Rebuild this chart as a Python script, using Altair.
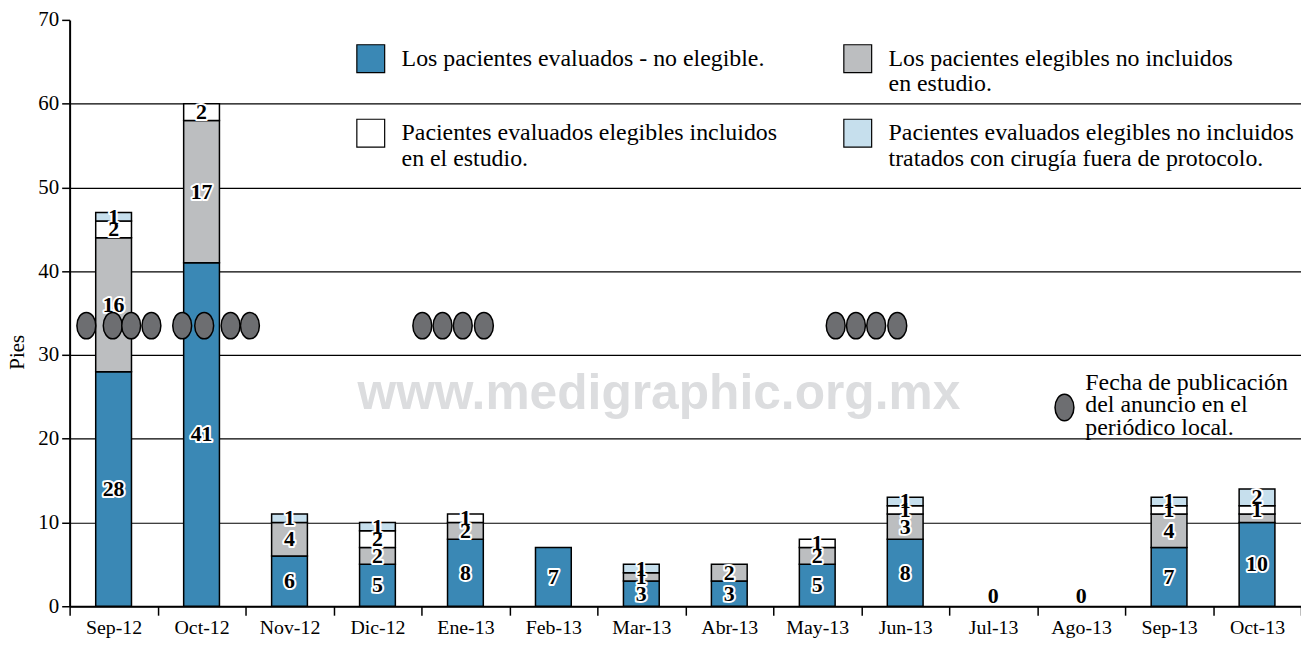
import altair as alt
import pandas as pd

# ---------------- data ----------------
meses = ["Sep-12", "Oct-12", "Nov-12", "Dic-12", "Ene-13", "Feb-13", "Mar-13",
         "Abr-13", "May-13", "Jun-13", "Jul-13", "Ago-13", "Sep-13", "Oct-13"]

series = [
    "Los pacientes evaluados - no elegible.| ",
    "Los pacientes elegibles no incluidos|en estudio.",
    "Pacientes evaluados elegibles incluidos|en el estudio.",
    "Pacientes evaluados elegibles no incluidos|tratados con cirugía fuera de protocolo.",
]
colores = ["#3a88b5", "#bcbec0", "#ffffff", "#c6dfed"]

no_elegibles = [28, 41, 6, 5, 8, 7, 3, 3, 5, 8, 0, 0, 7, 10]
elegibles_no_incluidos = [16, 17, 4, 2, 2, 0, 1, 2, 2, 3, 0, 0, 4, 1]
incluidos = [2, 2, 0, 2, 1, 0, 0, 0, 1, 1, 0, 0, 1, 1]
cirugia_fuera = [1, 0, 1, 1, 0, 0, 1, 0, 0, 1, 0, 0, 1, 2]

etq_no_elegibles = ["28", "41", "6", "5", "8", "7", "3", "3", "5", "8", "", "", "7", "10"]
etq_elegibles_no_incluidos = ["16", "17", "4", "2", "2", "", "1", "2", "2", "3", "", "", "4", ""]
etq_incluidos = ["2", "2", "", "2", "1", "", "", "", "1", "1", "", "", "1", "1"]
etq_cirugia_fuera = ["1", "", "1", "1", "", "", "1", "", "", "1", "", "", "1", "2"]

# publication dates of the newspaper notice, in month-band units from Sep-12 start
fechas_publicacion = [0.19, 0.49, 0.70, 0.93, 1.28, 1.53, 1.83, 2.05,
                      4.01, 4.24, 4.47, 4.71, 8.71, 8.94, 9.17, 9.41]
altura_marcador = 33.5
leyenda_marcador = "Fecha de publicación|del anuncio en el|periódico local."

marca_agua = "www.medigraphic.org.mx"

# ---------------- tables ----------------
valores = [no_elegibles, elegibles_no_incluidos, incluidos, cirugia_fuera]
etiquetas = [etq_no_elegibles, etq_elegibles_no_incluidos, etq_incluidos, etq_cirugia_fuera]
rows = []
for i, m in enumerate(meses):
    for k in range(4):
        rows.append(dict(mes=m, serie=series[k], orden=k,
                         valor=valores[k][i], etiqueta=etiquetas[k][i]))
df = pd.DataFrame(rows)

totales = [sum(v[i] for v in valores) for i in range(len(meses))]
df_cero = pd.DataFrame({"mes": [m for m, t in zip(meses, totales) if t == 0],
                        "total": [t for t in totales if t == 0]})
df_cero["texto"] = df_cero["total"].astype(str)

df_pub = pd.DataFrame({"posicion": fechas_publicacion,
                       "altura": [altura_marcador] * len(fechas_publicacion)})

df_agua = pd.DataFrame({"texto": [marca_agua], "pos": [6.7], "alt": [25.3]})
df_ley = pd.DataFrame({"texto": [leyenda_marcador]})

SERIF = "Liberation Serif"
ELIPSE = ("M0,-1.4 C0.5523,-1.4 1,-0.7732 1,0 C1,0.7732 0.5523,1.4 0,1.4 "
          "C-0.5523,1.4 -1,0.7732 -1,0 C-1,-0.7732 -0.5523,-1.4 0,-1.4 Z")

# legend is filled column by column: order domain so it reads row by row
orden_leyenda = [0, 2, 1, 3]
dominio_color = [series[k] for k in orden_leyenda]
rango_color = [colores[k] for k in orden_leyenda]

yscale = alt.Scale(domain=[0, 70], nice=False, zero=True)
xband_scale = alt.Scale(domain=meses, paddingInner=0, paddingOuter=0)
xq_scale = alt.Scale(domain=[0, 14], nice=False, zero=False)

x_axis = alt.Axis(title=None, tickBand="extent", tickSize=9, tickColor="black",
                  tickWidth=1.5, domainColor="black", domainWidth=2,
                  labelFont=SERIF, labelFontSize=20, labelColor="black",
                  labelPadding=2, labelAngle=0, grid=False)
y_axis = alt.Axis(title="Pies", values=list(range(0, 71, 10)), tickSize=8,
                  tickColor="black", tickWidth=1.5, domainColor="black",
                  domainWidth=2, labelFont=SERIF, labelFontSize=21,
                  labelColor="black", labelPadding=3, grid=True,
                  gridColor="black", gridWidth=1.2,
                  gridOpacity={"condition": {"test": "datum.value == 70", "value": 0}, "value": 1},
                  titleFont=SERIF, titleFontSize=21, titleFontWeight="normal",
                  titleColor="black", titleX=-52, titleY=334, titleAngle=270,
                  titleAlign="center", titleBaseline="middle")

base = alt.Chart(df).transform_stack(
    stack="valor", groupby=["mes"],
    sort=[alt.SortField(field="orden", order="ascending")],
    as_=["y0", "y1"],
).transform_calculate(ymid="(datum.y0 + datum.y1) / 2")

bars = base.transform_filter("datum.valor > 0").mark_bar(
    size=36, stroke="black", strokeWidth=1.5
).encode(
    x=alt.X("mes:N", sort=meses, scale=xband_scale, axis=x_axis),
    y=alt.Y("y0:Q", scale=yscale, axis=y_axis),
    y2="y1:Q",
    color=alt.Color("serie:N", sort=dominio_color,
                    scale=alt.Scale(domain=dominio_color, range=rango_color),
                    legend=alt.Legend(title=None, orient="none", legendX=288, legendY=24,
                                      columns=2, columnPadding=64, rowPadding=20,
                                      padding=0, symbolType="square", symbolSize=784,
                                      symbolStrokeColor="black", symbolStrokeWidth=1.2,
                                      symbolOpacity=1,
                                      labelFont=SERIF, labelFontSize=24,
                                      labelColor="black", labelOffset=16, labelLimit=0,
                                      labelExpr="split(datum.label, '|')")),
    order=alt.Order("orden:Q"),
)

def etiquetas_capa(halo):
    kw = dict(font=SERIF, fontSize=22, fontWeight="bold")
    if halo:
        kw.update(stroke="white", strokeWidth=4, strokeJoin="round", fill="white")
    else:
        kw.update(fill="black")
    return base.transform_filter("datum.etiqueta != ''").mark_text(**kw).encode(
        x=alt.X("mes:N", sort=meses, scale=xband_scale, axis=None),
        y=alt.Y("ymid:Q", scale=yscale, axis=y_axis),
        text="etiqueta:N",
    )

def cero_capa(halo):
    kw = dict(font=SERIF, fontSize=22, fontWeight="bold", dy=-10)
    if halo:
        kw.update(stroke="white", strokeWidth=4, strokeJoin="round", fill="white")
    else:
        kw.update(fill="black")
    return alt.Chart(df_cero).mark_text(**kw).encode(
        x=alt.X("mes:N", sort=meses, scale=xband_scale, axis=None),
        y=alt.Y("total:Q", scale=yscale, axis=y_axis),
        text="texto:N",
    )

marcadores = alt.Chart(df_pub).mark_point(
    filled=True, fill="#6d6e71", stroke="black", strokeWidth=1.5, shape=ELIPSE,
    size=361, opacity=1, fillOpacity=1, strokeOpacity=1
).encode(
    x=alt.X("posicion:Q", scale=xq_scale, axis=None),
    y=alt.Y("altura:Q", scale=yscale, axis=y_axis),
)

# legend entry for the markers (symbol + three-line label)
ley_simbolo = alt.Chart(df_ley).mark_point(
    filled=True, fill="#6d6e71", stroke="black", strokeWidth=1.5, shape=ELIPSE,
    size=361, opacity=1, fillOpacity=1, strokeOpacity=1
).encode(x=alt.value(1001), y=alt.value(390))

ley_texto = alt.Chart(df_ley).mark_text(
    font=SERIF, fontSize=24, color="black", align="left", baseline="middle",
    lineBreak="|", lineHeight=23
).encode(x=alt.value(1022), y=alt.value(365), text="texto:N")

agua = alt.Chart(df_agua).mark_text(
    font="Liberation Sans", fontWeight="bold", fontSize=50, color="#dcdddf"
).encode(
    x=alt.X("pos:Q", scale=xq_scale, axis=None),
    y=alt.Y("alt:Q", scale=yscale, axis=y_axis),
    text="texto:N",
)

chart = alt.layer(
    agua, bars, etiquetas_capa(True), etiquetas_capa(False), marcadores,
    cero_capa(True), cero_capa(False), ley_simbolo, ley_texto
).resolve_scale(x="independent").properties(
    width=1239, height=590,
    autosize=alt.AutoSizeParams(type="none"),
    padding={"left": 62, "top": 10, "right": 0, "bottom": 31},
    background="white",
).configure_view(stroke=None)

chart.save("out.html", embed_options={"renderer": "svg", "actions": False})
